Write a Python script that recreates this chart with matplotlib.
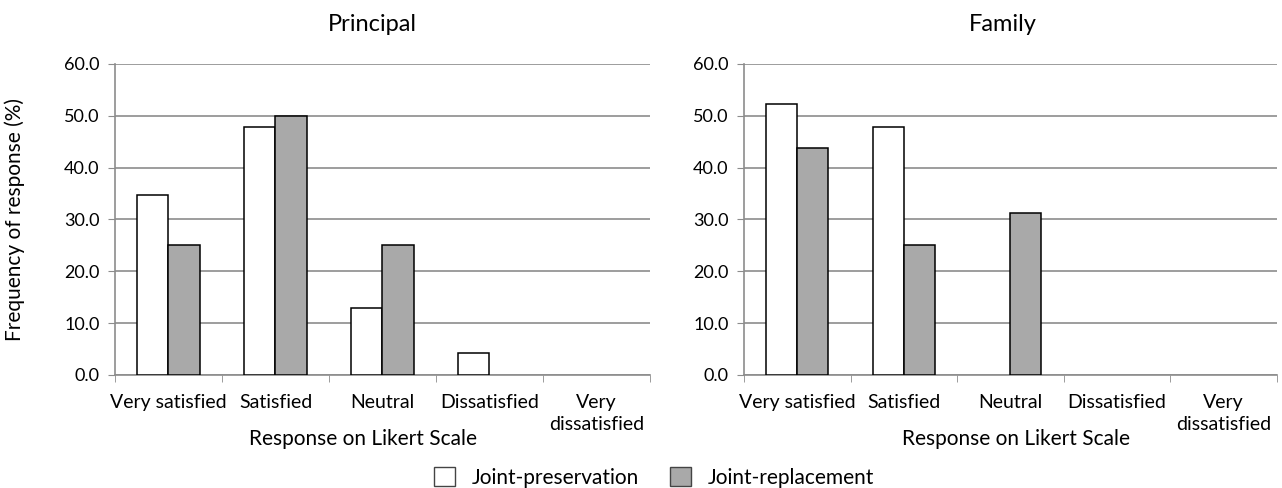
import numpy as np
import matplotlib.pyplot as plt
from matplotlib.patches import Patch

plt.rcParams['font.family'] = ['Lato', 'DejaVu Sans']

categories = ['Very satisfied', 'Satisfied', 'Neutral', 'Dissatisfied', 'Very\ndissatisfied']
series_names = ['Joint-preservation', 'Joint-replacement']

principal_preservation = [34.8, 47.8, 13.0, 4.3, 0.0]
principal_replacement = [25.0, 50.0, 25.0, 0.0, 0.0]
family_preservation = [52.2, 47.8, 0.0, 0.0, 0.0]
family_replacement = [43.8, 25.0, 31.2, 0.0, 0.0]

fig = plt.figure(figsize=(12.82, 4.88), dpi=100)
ax1 = fig.add_axes([0.0897, 0.2316, 0.4173, 0.6373])
ax2 = fig.add_axes([0.5803, 0.2316, 0.4158, 0.6373])

x = np.arange(len(categories))
w = 0.29
grid_col = '#8c8c8c'


def edges(vals):
    # no outline for empty bars
    return ['black' if v > 0 else 'none' for v in vals]


for ax, title, pres, repl, tx in [(ax1, 'Principal', principal_preservation, principal_replacement, 0.482),
                                  (ax2, 'Family', family_preservation, family_replacement, 0.486)]:
    ax.bar(x - w / 2, pres, w, color='white', edgecolor=edges(pres), linewidth=1.1, zorder=3)
    ax.bar(x + w / 2, repl, w, color='#a9a9a9', edgecolor=edges(repl), linewidth=1.1, zorder=3)
    ax.set_xlim(-0.5, len(categories) - 0.5)
    ax.set_ylim(0, 60)
    ax.set_yticks(np.arange(0, 61, 10))
    ax.set_yticklabels([f'{v:.1f}' for v in np.arange(0, 61, 10)], fontsize=13)
    ax.set_xticks(x)
    ax.set_xticklabels(categories, fontsize=14, linespacing=1.3, va='top')
    ax.set_xticks(np.arange(-0.5, len(categories)), minor=True)
    ax.tick_params(axis='x', which='major', length=0, pad=14)
    ax.tick_params(axis='x', which='minor', length=5, color=grid_col, direction='out')
    ax.tick_params(axis='y', length=5, color=grid_col, pad=6)
    ax.yaxis.grid(True, color=grid_col, linewidth=1.2, zorder=0)
    ax.set_axisbelow(True)
    for s in ['top', 'right']:
        ax.spines[s].set_visible(False)
    for s in ['left', 'bottom']:
        ax.spines[s].set_color(grid_col)
        ax.spines[s].set_linewidth(1.2)
    ax.set_title(title, fontsize=17, pad=24, x=tx)
    ax.set_xlabel('Response on Likert Scale', fontsize=15, labelpad=0)

ax1.xaxis.set_label_coords(0.463, -0.175)
ax2.xaxis.set_label_coords(0.51, -0.175)
ax1.set_ylabel('Frequency of response (%)', fontsize=15, labelpad=28)

handles = [Patch(facecolor='white', edgecolor='#444444', label=series_names[0]),
           Patch(facecolor='#a9a9a9', edgecolor='#444444', label=series_names[1])]
fig.legend(handles=handles, loc='lower center', ncol=2, frameon=False, fontsize=15,
           bbox_to_anchor=(0.51, -0.038), handlelength=1.0, handleheight=1.0, columnspacing=1.5)

fig.savefig('out.png', dpi=100)
